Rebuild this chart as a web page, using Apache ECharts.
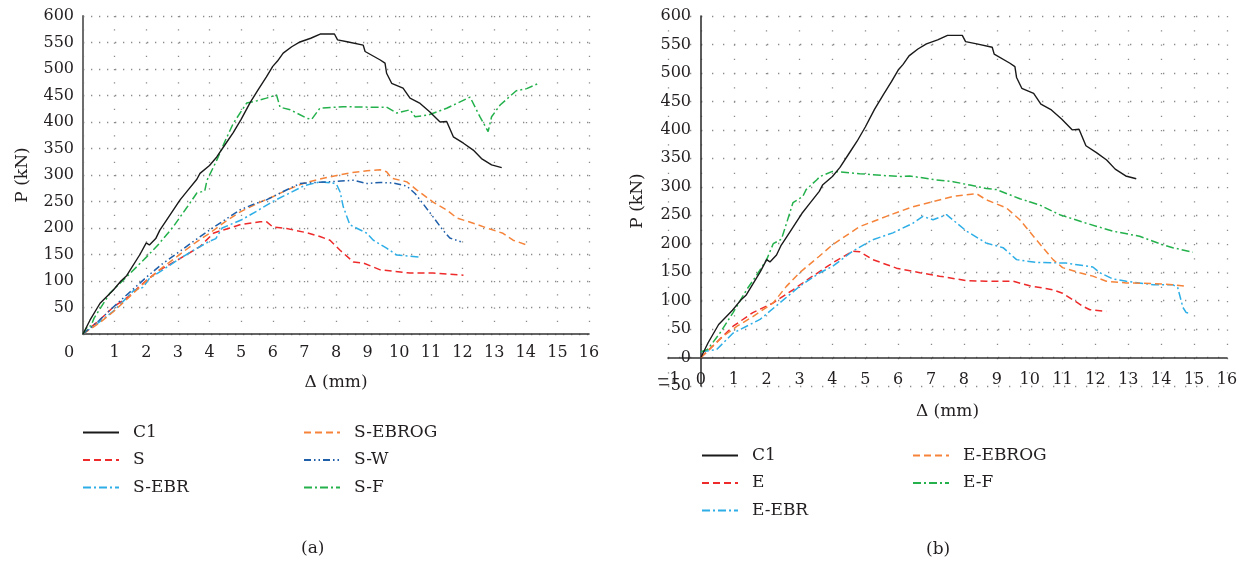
<!DOCTYPE html>
<html><head><meta charset="utf-8">
<script src="https://cdn.jsdelivr.net/npm/echarts@6/dist/echarts.min.js"></script>
<style>html,body{margin:0;padding:0;background:#fff}#c{width:1246px;height:561px}</style>
</head><body><div id="c"></div>
<script>
// ---- data (x: Δ in mm, y: P in kN) ----
const C1 = [[0,0],[0.22,26],[0.54,58],[0.96,83],[1.2,100],[1.38,110],[1.8,150],[2.0,172],[2.1,168],[2.3,180],[2.43,196],[2.7,220],[3.07,253],[3.3,270],[3.6,292],[3.7,303],[4.0,318],[4.23,334],[4.5,358],[4.75,380],[5.0,405],[5.28,436],[5.55,462],[5.8,485],[6.0,505],[6.15,515],[6.33,530],[6.6,542],[6.86,551],[7.2,558],[7.5,566],[7.95,566],[8.05,555],[8.39,551],[8.86,545],[8.92,533],[9.4,517],[9.55,511],[9.6,492],[9.76,473],[10.12,464],[10.34,445],[10.66,435],[10.97,419],[11.29,400],[11.5,401],[11.71,372],[12.03,360],[12.34,347],[12.6,331],[12.92,319],[13.24,314]];
const S = [[0,0],[0.5,25],[0.96,51],[1.38,68],[2.02,102],[2.43,121],[3.0,140],[3.7,165],[4.12,190],[4.3,194],[4.65,200],[4.96,206],[5.6,212],[5.8,212],[6.0,202],[6.44,199],[7.08,191],[7.49,184],[7.81,177],[8.13,158],[8.55,136],[8.86,134],[9.4,121],[10.34,115],[11.07,115],[12.03,111]];
const S_EBR = [[0,0],[0.5,22],[1.0,45],[1.6,82],[1.9,88],[2.1,105],[2.5,120],[3.0,140],[3.5,158],[4.0,175],[4.2,180],[4.4,200],[5.0,215],[5.5,232],[6.0,250],[6.5,265],[7.0,280],[7.49,287],[7.9,285],[8.02,282],[8.13,268],[8.23,240],[8.44,206],[8.98,190],[9.18,177],[9.6,162],[9.92,149],[10.66,145]];
const S_EBROG = [[0,0],[0.5,20],[0.96,42],[1.5,72],[2.02,101],[2.5,125],[2.97,146],[3.5,170],[4.0,190],[4.5,212],[4.96,230],[5.5,246],[6.0,259],[6.5,273],[6.96,284],[7.6,294],[8.44,304],[8.98,308],[9.39,310],[9.6,306],[9.76,294],[10.24,287],[10.55,272],[11.07,249],[11.5,234],[11.82,219],[12.34,209],[12.87,198],[13.28,190],[13.6,177],[14.03,168]];
const S_W = [[0,0],[0.5,25],[0.96,51],[1.5,80],[2.02,108],[2.5,132],[2.97,152],[3.5,175],[4.0,196],[4.5,216],[4.96,234],[5.4,245],[5.8,253],[6.3,268],[6.86,284],[7.7,287],[8.55,290],[8.98,284],[9.4,286],[9.8,285],[10.24,279],[10.5,265],[10.75,246],[11.07,221],[11.38,196],[11.6,181],[12.0,173]];
const S_F = [[0,0],[0.15,15],[0.25,15],[0.35,30],[0.85,77],[1.5,115],[2.02,146],[2.4,170],[2.85,202],[3.3,240],[3.6,266],[3.85,270],[3.92,290],[4.23,328],[4.5,365],[4.75,397],[5.0,420],[5.18,436],[5.5,440],[5.8,445],[6.12,451],[6.23,428],[6.55,423],[7.08,407],[7.23,405],[7.49,426],[8.23,429],[9.0,428],[9.6,428],[9.92,417],[10.34,423],[10.5,410],[10.91,413],[11.5,426],[12.24,447],[12.55,410],[12.81,382],[12.92,410],[13.19,432],[13.7,459],[14.03,463],[14.45,474]];
const E = [[0,0],[0.98,55],[1.58,79],[2.2,96],[2.8,119],[3.4,143],[4.0,166],[4.62,187],[4.83,186],[5.23,172],[5.95,157],[6.66,149],[7.26,143],[8.08,135],[8.68,134],[9.5,134],[10.0,126],[10.71,119],[11.0,113],[11.3,102],[11.62,90],[11.83,84],[12.33,81]];
const E_EBR = [[0,10],[0.48,14],[0.98,43],[1.8,67],[2.4,96],[3.0,125],[3.62,149],[4.0,160],[4.62,187],[5.23,207],[5.84,219],[6.45,236],[6.75,248],[7.06,242],[7.47,251],[8.08,222],[8.68,201],[9.19,193],[9.6,172],[10.2,167],[11.1,166],[11.92,159],[12.13,149],[12.53,138],[12.94,134],[13.75,128],[14.35,128],[14.5,123],[14.66,88],[14.76,79],[14.86,78]];
const E_EBROG = [[0,0],[0.67,37],[1.1,55],[1.58,72],[2.2,96],[2.6,125],[3.0,149],[3.6,178],[4.0,198],[4.83,230],[5.64,248],[6.45,265],[7.0,273],[7.67,283],[8.38,288],[8.68,277],[9.29,263],[9.7,242],[10.2,207],[10.71,172],[11.0,158],[11.52,149],[11.92,143],[12.33,134],[12.94,131],[13.75,130],[14.35,128],[14.76,125]];
const E_F = [[0,10],[0.2,14],[0.58,43],[0.98,79],[1.39,119],[1.7,145],[2.0,172],[2.2,200],[2.45,208],[2.6,235],[2.8,272],[3.1,283],[3.2,295],[3.52,312],[3.62,318],[4.0,327],[4.83,323],[5.5,320],[6.05,318],[6.35,319],[7.16,312],[7.67,309],[8.18,303],[8.68,297],[8.99,295],[9.7,279],[10.3,268],[10.91,251],[11.72,236],[12.53,222],[13.34,213],[14.05,198],[14.35,193],[14.96,185]];

const legendLeftA = ['C1','S','S-EBR'];
const legendRightA = ['S-EBROG','S-W','S-F'];
const legendLeftB = ['C1','E','E-EBR'];
const legendRightB = ['E-EBROG','E-F'];

// ---- styles ----
const FONT = 'DejaVu Serif';
const TXT = '#231f20';
const col = {black:'#1a1a1a', red:'#ee2a2a', orange:'#f5843a', navy:'#1f5ea8', sky:'#2eaee6', green:'#24b14c'};
const dash = [7,4], dashDot = [8,3,2,3], dashDotDot = [7,3,1.5,3,1.5,3];

function ser(name, data, color, type, gi, w){
  return {name, type:'line', data, xAxisIndex:gi, yAxisIndex:gi, symbol:'none', smooth:false,
    lineStyle:{color, width:w||1.5, type}, itemStyle:{color}, z: name==='C1'?3:2, animation:false};
}
const gridDotH = (gap)=>({show:true, lineStyle:{color:'#8a8a8a', width:1.3, type:[1.3,gap]}});
const lbl = {fontFamily:FONT, fontSize:16, color:TXT};

const legendBase = {orient:'vertical', itemWidth:36, itemHeight:14, itemGap:10.5, padding:0,
  itemStyle:{color:'transparent', borderWidth:0, opacity:0},
  textStyle:{fontFamily:FONT, fontSize:17, color:TXT, padding:[0,0,0,9]}};

const option = {
  backgroundColor:'#fff',
  animation:false,
  title:[
    {text:'(a)', left:296, top:535, textStyle:{fontFamily:FONT, fontSize:17, fontWeight:'normal', color:TXT}},
    {text:'(b)', left:921, top:536, textStyle:{fontFamily:FONT, fontSize:17, fontWeight:'normal', color:TXT}}
  ],
  grid:[
    {left:83, top:16, width:506, height:318, containLabel:false},
    {left:668, top:16, width:559, height:370, containLabel:false}
  ],
  xAxis:[
    {type:'value', gridIndex:0, min:0, max:16, interval:1,
     name:'Δ (mm)', nameLocation:'middle', nameGap:40, nameTextStyle:{fontFamily:FONT, fontSize:17, color:TXT},
     axisLine:{show:true, onZero:false, lineStyle:{color:'#333', width:1.6}}, axisTick:{show:false},
     axisLabel:Object.assign({margin:11, formatter:v=> v===0 ? '{z|0}' : String(v),
       rich:{z:{fontFamily:FONT, fontSize:16, color:TXT, padding:[0,28,0,0]}}}, lbl),
     splitLine:{show:true, lineStyle:{color:'#8a8a8a', width:1.3, type:[1.3,11.95], dashOffset:0}}},
    {type:'value', gridIndex:1, min:-1, max:16, interval:1,
     name:'Δ (mm)', nameLocation:'middle', nameGap:17, nameTextStyle:{fontFamily:FONT, fontSize:17, color:TXT},
     axisLine:{show:true, onZero:true, lineStyle:{color:'#333', width:1.6}}, axisTick:{show:false},
     axisLabel:Object.assign({margin:-14, formatter:v=>String(v).replace('-','\u2212')}, lbl),
     splitLine:{show:true, lineStyle:{color:'#8a8a8a', width:1.3, type:[1.3,12.95]}}}
  ],
  yAxis:[
    {type:'value', gridIndex:0, min:0, max:600, interval:50,
     name:'P (kN)', nameLocation:'middle', nameGap:52, nameTextStyle:{fontFamily:FONT, fontSize:17, color:TXT},
     axisLine:{show:true, onZero:false, lineStyle:{color:'#6d6d6d', width:2}}, axisTick:{show:false},
     axisLabel:Object.assign({margin:9, formatter:v=> v===0 ? '' : String(v)}, lbl),
     splitLine:gridDotH(6.7)},
    {type:'value', gridIndex:1, min:-50, max:600, interval:50,
     name:'P (kN)', nameLocation:'middle', nameGap:22, nameTextStyle:{fontFamily:FONT, fontSize:17, color:TXT},
     axisLine:{show:true, onZero:true, lineStyle:{color:'#333', width:1.6}}, axisTick:{show:false},
     axisLabel:Object.assign({margin:-23, formatter:v=>String(v).replace('-','\u2212')}, lbl),
     splitLine:gridDotH(9.7)}
  ],
  legend:[
    Object.assign({}, legendBase, {left:82, top:424, data:legendLeftA}),
    Object.assign({}, legendBase, {left:303, top:424, data:legendRightA}),
    Object.assign({}, legendBase, {left:701, top:447, data:legendLeftB}),
    Object.assign({}, legendBase, {left:912, top:447, data:legendRightB})
  ],
  series:[
    ser('S', S, col.red, dash, 0),
    ser('S-EBR', S_EBR, col.sky, dashDot, 0),
    ser('S-EBROG', S_EBROG, col.orange, dash, 0),
    ser('S-W', S_W, col.navy, dashDotDot, 0),
    ser('S-F', S_F, col.green, dashDot, 0),
    ser('C1', C1, col.black, 'solid', 0, 1.4),
    ser('E', E, col.red, dash, 1),
    ser('E-EBR', E_EBR, col.sky, dashDot, 1),
    ser('E-EBROG', E_EBROG, col.orange, dash, 1),
    ser('E-F', E_F, col.green, dashDot, 1),
    ser('C1', C1, col.black, 'solid', 1, 1.4)
  ]
};
const chart = echarts.init(document.getElementById('c'), null, {renderer:'canvas'});
chart.setOption(option);
</script></body></html>
